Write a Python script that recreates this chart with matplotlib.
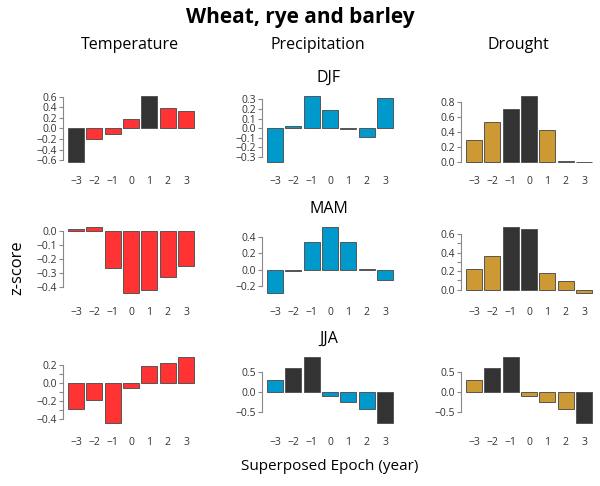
import matplotlib
matplotlib.use('Agg')
import matplotlib.pyplot as plt
import numpy as np

plt.rcParams['font.family'] = ['Open Sans', 'DejaVu Sans']

years = [-3, -2, -1, 0, 1, 2, 3]

# temperature (red), precipitation (blue), drought (gold)
temp_djf = [-0.64, -0.19, -0.10, 0.18, 0.62, 0.38, 0.33]
temp_mam = [0.01, 0.03, -0.264, -0.443, -0.419, -0.329, -0.25]
temp_jja = [-0.294, -0.196, -0.453, -0.06, 0.189, 0.226, 0.294]
prec_djf = [-0.36, 0.02, 0.34, 0.19, -0.015, -0.09, 0.32]
prec_mam = [-0.29, -0.01, 0.334, 0.528, 0.334, 0.005, -0.124]
prec_jja = [0.29, 0.595, 0.868, -0.107, -0.248, -0.42, -0.769]
drou_djf = [0.295, 0.532, 0.709, 0.886, 0.423, 0.01, -0.01]
drou_mam = [0.222, 0.367, 0.68, 0.655, 0.178, 0.095, -0.04]
drou_jja = [0.29, 0.595, 0.868, -0.107, -0.248, -0.42, -0.769]

# which years are significant (drawn dark)
sig_temp_djf = [-3, 1]
sig_drou_djf = [-1, 0]
sig_drou_mam = [-1, 0]
sig_prec_jja = [-2, -1, 3]
sig_drou_jja = [-2, -1, 3]

# (values, significant years, colour, labelled ticks, extra unlabelled ticks)
panels = [
    [(temp_djf, sig_temp_djf, '#ff3333', np.arange(-0.6, 0.61, 0.2), []),
     (prec_djf, [], '#0099cc', np.arange(-0.3, 0.31, 0.1), []),
     (drou_djf, sig_drou_djf, '#cc9933', np.arange(0, 0.81, 0.2), [])],
    [(temp_mam, [], '#ff3333', np.arange(-0.4, 0.01, 0.1), []),
     (prec_mam, [], '#0099cc', np.arange(-0.2, 0.41, 0.2), []),
     (drou_mam, sig_drou_mam, '#cc9933', np.arange(0, 0.61, 0.2), np.arange(0, 0.61, 0.1))],
    [(temp_jja, [], '#ff3333', np.arange(-0.4, 0.21, 0.2), np.arange(-0.4, 0.21, 0.1)),
     (prec_jja, sig_prec_jja, '#0099cc', np.arange(-0.5, 0.51, 0.5), []),
     (drou_jja, sig_drou_jja, '#cc9933', np.arange(-0.5, 0.51, 0.5), [])],
]


def fmt(v):
    s = '%.1f' % v
    if s == '-0.0':
        s = '0.0'
    return s.replace('-', '\u2212')


W, H = 600, 486
fig = plt.figure(figsize=(6, 4.86), dpi=100)

col_left = [63, 262, 461]
row_top = [93, 224, 354]
ax_w, ax_h = 134, 72
season = ['DJF', 'MAM', 'JJA']

for r in range(3):
    for c in range(3):
        vals, sig, col, major, minor = panels[r][c]
        ax = fig.add_axes([col_left[c] / W, 1 - (row_top[r] + ax_h) / H, ax_w / W, ax_h / H])
        cols = ['#333333' if y in sig else col for y in years]
        ax.bar(years, vals, width=0.87, color=cols, edgecolor='#555555', linewidth=0.7)
        lo, hi = min(vals), max(vals)
        pad = 0.04 * (hi - lo)
        ax.set_ylim(lo - pad, hi + pad)
        ax.set_xlim(-3.71, 3.6)
        for s in ['top', 'right', 'bottom']:
            ax.spines[s].set_visible(False)
        ax.spines['left'].set_color('#888888')
        ax.spines['left'].set_linewidth(0.8)
        ax.spines['left'].set_bounds(major[0], major[-1])
        ax.set_yticks(major)
        ax.set_yticklabels([fmt(v) for v in major])
        if len(minor):
            ax.set_yticks(minor, minor=True)
        ax.tick_params(axis='y', which='both', length=3, width=0.8, color='#888888',
                       labelsize=7.5, labelcolor='#333333', pad=1.5)
        ax.set_xticks(years)
        ax.set_xticklabels([str(y).replace('-', '\u2212') for y in years])
        ax.tick_params(axis='x', length=0, labelsize=7.5, labelcolor='#333333', pad=8)
        if c == 1:
            ax.set_title(season[r], fontsize=11.5, pad=8)

fig.text(0.5, 1 - 18 / H, 'Wheat, rye and barley', ha='center', va='center',
         fontsize=15, fontweight='bold')
fig.text(130 / W, 1 - 45 / H, 'Temperature', ha='center', va='center', fontsize=11.5)
fig.text(318 / W, 1 - 45 / H, 'Precipitation', ha='center', va='center', fontsize=11.5)
fig.text(518 / W, 1 - 45 / H, 'Drought', ha='center', va='center', fontsize=11.5)
fig.text(17 / W, 1 - 268 / H, 'z-score', ha='center', va='center', rotation=90, fontsize=12)
fig.text(330 / W, 1 - 466 / H, 'Superposed Epoch (year)', ha='center', va='center', fontsize=11)

fig.savefig('out.png', dpi=100)
